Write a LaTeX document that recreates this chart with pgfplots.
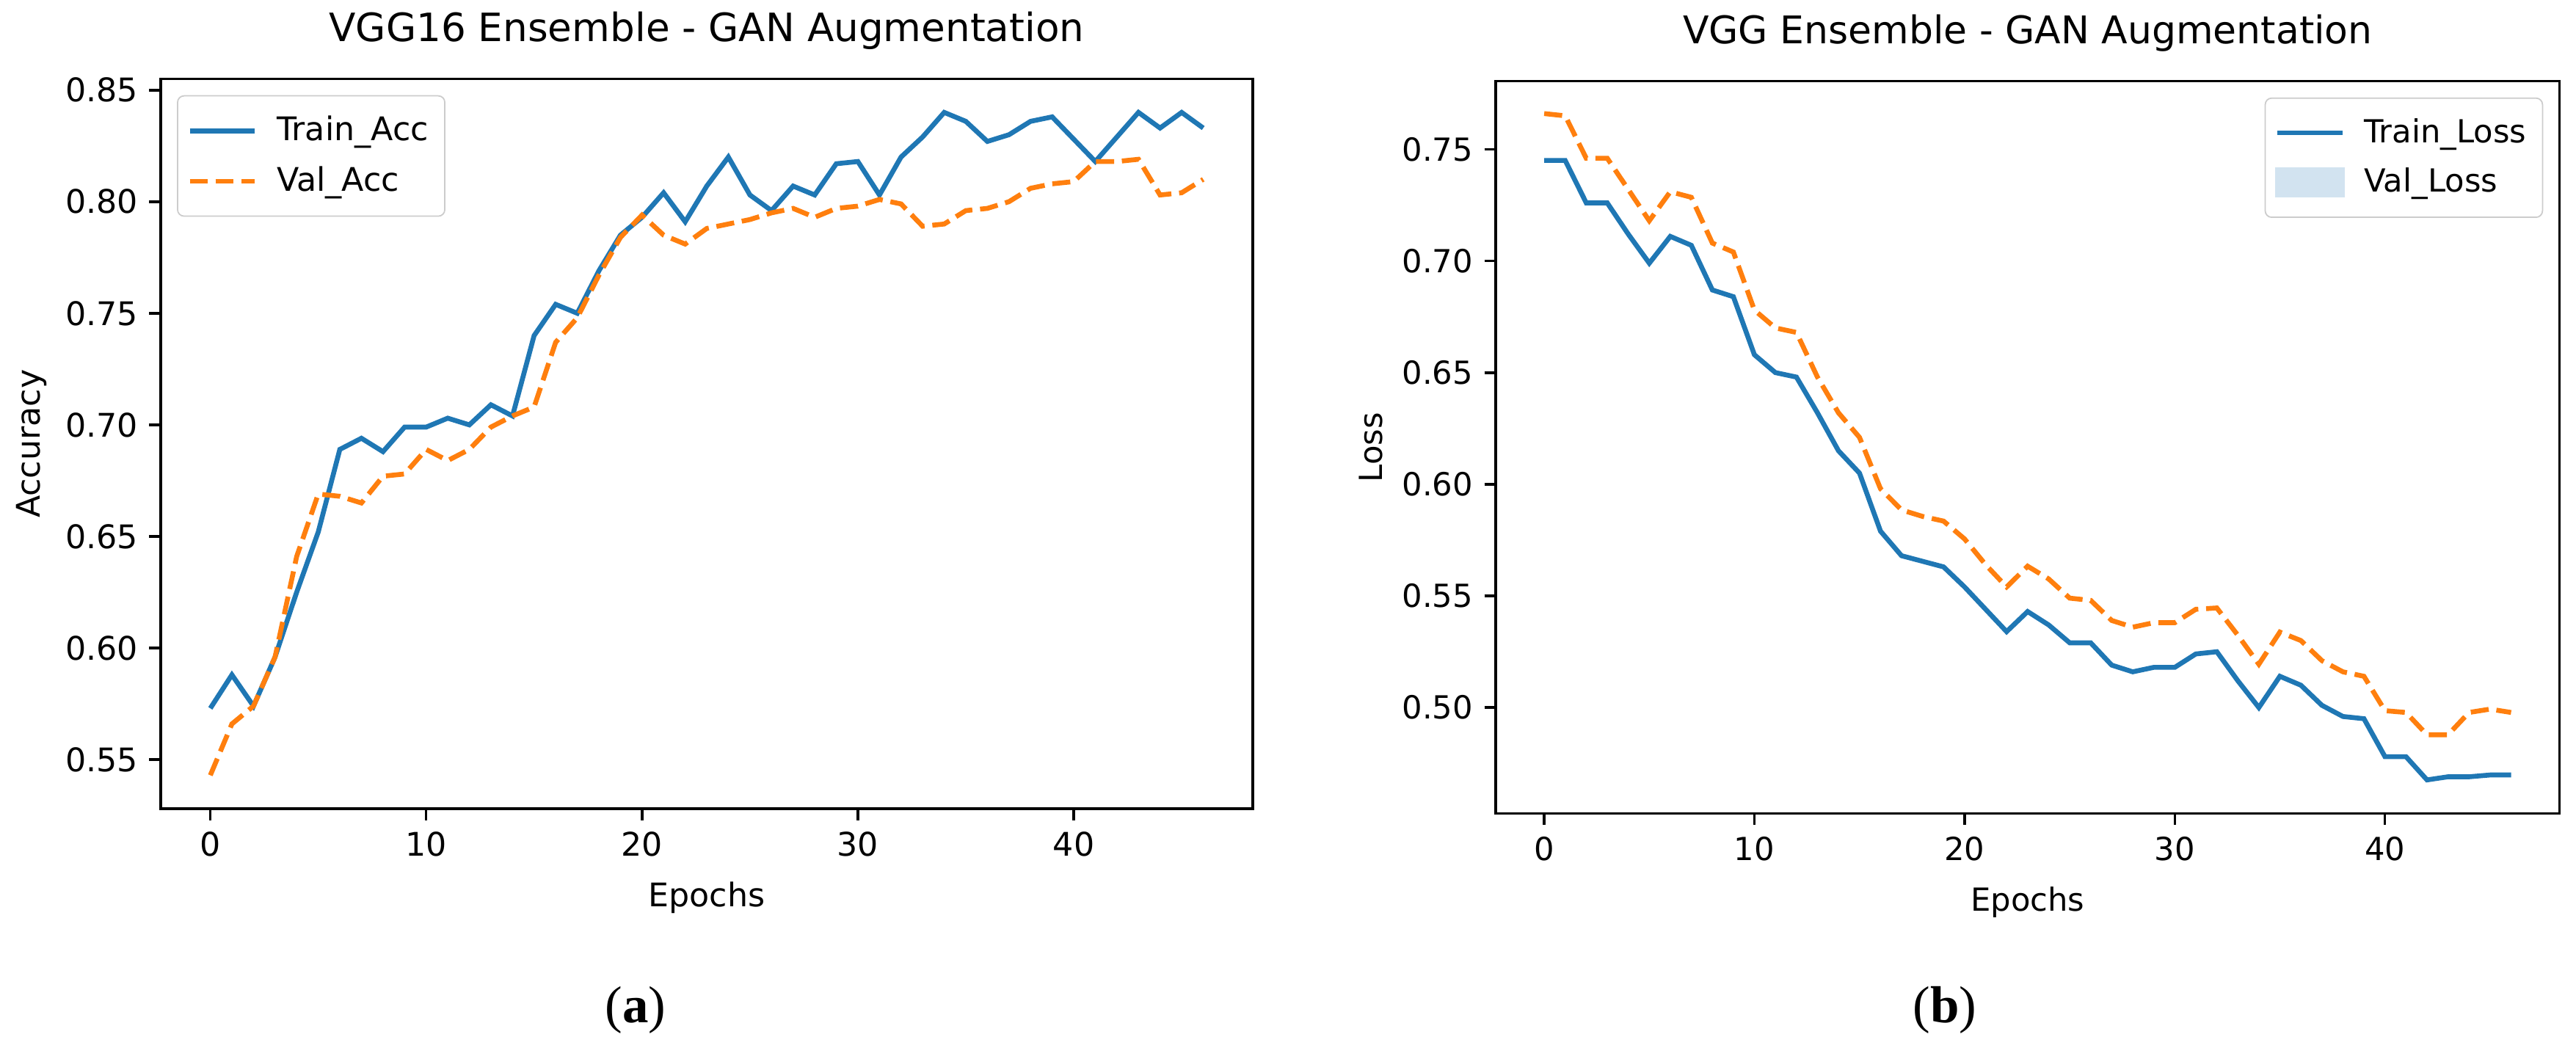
\documentclass[border=0pt]{standalone}
\usepackage{pgfplots}
\pgfplotsset{compat=1.18}
\usepackage{pgfplotstable}
\usepackage{fontspec}
\setmainfont{DejaVu Sans}
\newfontfamily\capfont{Liberation Serif}
\definecolor{mplblue}{RGB}{31,119,180}
\definecolor{mplorange}{RGB}{255,127,14}
\definecolor{lightpatch}{RGB}{210,227,240}

\pgfplotstableread{
ep acc val
0 0.573 0.543
1 0.588 0.566
2 0.574 0.574
3 0.596 0.596
4 0.625 0.641
5 0.652 0.669
6 0.689 0.668
7 0.694 0.665
8 0.688 0.677
9 0.699 0.678
10 0.699 0.689
11 0.703 0.684
12 0.700 0.689
13 0.709 0.699
14 0.704 0.704
15 0.740 0.708
16 0.754 0.737
17 0.750 0.748
18 0.769 0.767
19 0.785 0.784
20 0.793 0.794
21 0.804 0.785
22 0.791 0.781
23 0.807 0.788
24 0.820 0.790
25 0.803 0.792
26 0.796 0.795
27 0.807 0.797
28 0.803 0.793
29 0.817 0.797
30 0.818 0.798
31 0.803 0.801
32 0.820 0.799
33 0.829 0.789
34 0.840 0.790
35 0.836 0.796
36 0.827 0.797
37 0.830 0.800
38 0.836 0.806
39 0.838 0.808
40 0.828 0.809
41 0.818 0.818
42 0.829 0.818
43 0.840 0.819
44 0.833 0.803
45 0.840 0.804
46 0.833 0.810
}\acctable

\pgfplotstableread{
ep loss val
0 0.745 0.766
1 0.745 0.765
2 0.726 0.746
3 0.726 0.746
4 0.712 0.732
5 0.699 0.718
6 0.711 0.731
7 0.707 0.7285
8 0.687 0.708
9 0.684 0.704
10 0.658 0.678
11 0.650 0.670
12 0.648 0.668
13 0.632 0.648
14 0.615 0.632
15 0.605 0.621
16 0.579 0.598
17 0.568 0.5885
18 0.5655 0.5856
19 0.563 0.5835
20 0.554 0.5755
21 0.544 0.564
22 0.534 0.554
23 0.543 0.5633
24 0.537 0.5576
25 0.529 0.549
26 0.529 0.548
27 0.519 0.539
28 0.516 0.536
29 0.518 0.538
30 0.518 0.538
31 0.524 0.544
32 0.525 0.5446
33 0.512 0.5324
34 0.500 0.5194
35 0.514 0.5338
36 0.510 0.530
37 0.501 0.521
38 0.496 0.516
39 0.495 0.514
40 0.478 0.4986
41 0.478 0.4978
42 0.4676 0.4878
43 0.469 0.4878
44 0.469 0.4978
45 0.4698 0.4993
46 0.4698 0.4978
}\losstable

\pgfplotsset{
  mplaxis/.style={
    scale only axis,
    anchor=south west,
    axis line style={line width=0.8pt},
    tick align=outside,
    tick style={line width=0.8pt, black},
    major tick length=3.5pt,
    xtick pos=bottom, ytick pos=left,
    xmin=-2.3, xmax=48.3,
    xtick={0,10,20,30,40},
    /pgf/number format/assume math mode=true,
    yticklabel style={/pgf/number format/fixed, /pgf/number format/precision=2, /pgf/number format/fixed zerofill},
    title style={at={(axis description cs:0.5,1)}, anchor=base, yshift=5.5pt, inner sep=0pt},
    xlabel style={at={(axis description cs:0.5,0)}, anchor=north, yshift=-22.4pt, inner sep=0pt},
    ylabel style={anchor=center, inner sep=0pt},
    legend cell align=left,
  },
  lineleg/.style={legend image code/.code={\draw[##1, sharp corners] (0pt,0pt) -- (20pt,0pt);}},
  mplleg/.style={draw=black!20, rounded corners=2pt, fill=white,
    inner xsep=3pt, inner ysep=4.2pt, row sep=2.4pt,
    /tikz/every odd column/.append style={column sep=4pt}},
}

\begin{document}
\begin{tikzpicture}
\useasboundingbox (0,0) rectangle (792pt,324.47pt);

\begin{axis}[mplaxis,
  at={(49.4pt,75.8pt)}, width=335.8pt, height=224.4pt,
  ymin=0.528, ymax=0.855,
  ytick={0.55,0.60,0.65,0.70,0.75,0.80,0.85},
  tick label style={font=\fontsize{10}{12}\selectfont},
  label style={font=\fontsize{10}{12}\selectfont},
  title style={font=\fontsize{12}{14}\selectfont},
  title={VGG16 Ensemble - GAN Augmentation},
  xlabel={Epochs}, ylabel={Accuracy},
  ylabel style={at={(axis description cs:-0.1182,0.5)}},
  legend style={mplleg, at={(axis description cs:0,1)}, anchor=north west, xshift=5pt, yshift=-5pt,
    font=\fontsize{10}{12}\selectfont},
]
\addplot[mplblue, line width=1.5pt, lineleg] table[x=ep, y=acc] {\acctable};
\addlegendentry{Train\_Acc}
\addplot[mplorange, line width=1.5pt, dash pattern=on 5.55pt off 2.4pt, lineleg] table[x=ep, y=val] {\acctable};
\addlegendentry{Val\_Acc}
\end{axis}

\begin{axis}[mplaxis,
  at={(459.9pt,74.3pt)}, width=327.0pt, height=225.2pt,
  ymin=0.4525, ymax=0.7805,
  ytick={0.50,0.55,0.60,0.65,0.70,0.75},
  tick label style={font=\fontsize{9.77}{11.7}\selectfont},
  label style={font=\fontsize{9.77}{11.7}\selectfont},
  title style={font=\fontsize{11.73}{14}\selectfont},
  title={VGG Ensemble - GAN Augmentation},
  xlabel={Epochs}, ylabel={Loss},
  ylabel style={at={(axis description cs:-0.1174,0.5)}},
  legend style={mplleg, at={(axis description cs:1,1)}, anchor=north east, xshift=-5pt, yshift=-5pt,
    font=\fontsize{9.77}{11.7}\selectfont},
]
\addplot[mplblue, line width=1.5pt, lineleg] table[x=ep, y=loss] {\losstable};
\addlegendentry{Train\_Loss}
\addplot[mplorange, line width=1.5pt, dash pattern=on 5.55pt off 2.4pt,
  legend image code/.code={\fill[lightpatch, sharp corners, solid] (0pt,-3.9pt) rectangle (20pt,3.9pt);}] table[x=ep, y=val] {\losstable};
\addlegendentry{Val\_Loss}
\end{axis}

\node[font=\capfont\fontsize{16}{18}\selectfont] at (195.4pt,13.8pt) {(\textbf{a})};
\node[font=\capfont\fontsize{16}{18}\selectfont] at (597.9pt,13.8pt) {(\textbf{b})};
\end{tikzpicture}
\end{document}
